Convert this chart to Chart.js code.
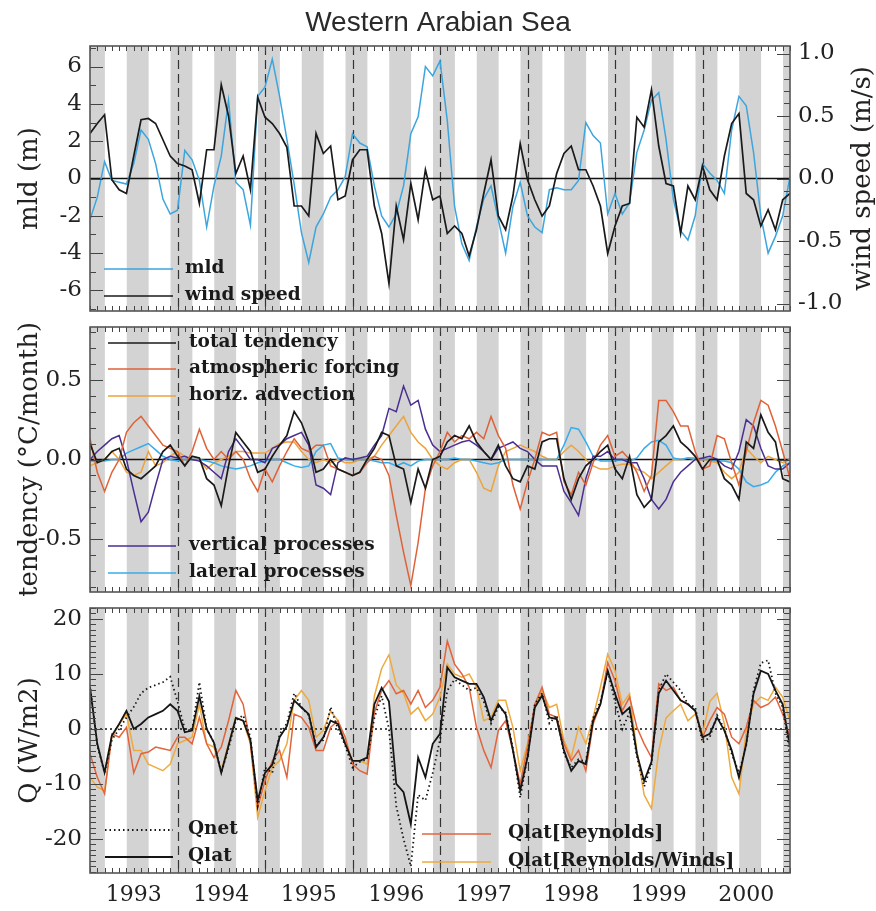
<!DOCTYPE html>
<html lang="en">
<head>
<meta charset="UTF-8" />
<title>Western Arabian Sea</title>
<script src="https://cdn.jsdelivr.net/npm/chart.js"></script>
<style>
  body { margin: 0; background: #fff; }
  #wrap { position: relative; width: 876px; height: 911px; }
  canvas { position: absolute; left: 0; }
</style>
</head>
<body>
<div id="wrap">
  <canvas id="mldChart" width="876" height="312" style="top:0"></canvas>
  <canvas id="tendChart" width="876" height="284" style="top:312px"></canvas>
  <canvas id="heatChart" width="876" height="315" style="top:596px"></canvas>
</div>
<script>
// monthly samples, Jan 1993 .. Jan 2001 (decimal years)
const months = Array.from({ length: 97 }, (_, i) => 1993 + i / 12);

const yearLabels = ['1993', '1994', '1995', '1996', '1997', '1998', '1999', '2000'];
const yearCenters = [1993.5, 1994.5, 1995.5, 1996.5, 1997.5, 1998.5, 1999.5, 2000.5];
const januaryLines = [1994, 1995, 1996, 1997, 1998, 1999, 2000];
// DJF and JJA seasons (shaded)
const seasonBands = [
  [1992.92, 1993.17], [1993.42, 1993.67], [1993.92, 1994.17], [1994.42, 1994.67],
  [1994.92, 1995.17], [1995.42, 1995.67], [1995.92, 1996.17], [1996.42, 1996.67],
  [1996.92, 1997.17], [1997.42, 1997.67], [1997.92, 1998.17], [1998.42, 1998.67],
  [1998.92, 1999.17], [1999.42, 1999.67], [1999.92, 2000.17], [2000.42, 2000.67],
  [2000.92, 2001.17]
];

const mldTicks = [-6, -4, -2, 0, 2, 4, 6];
const windTicks = [-1.0, -0.5, 0.0, 0.5, 1.0];
const tendTicks = [-0.5, 0.0, 0.5];
const qTicks = [-20, -10, 0, 10, 20];

// panel 1
const mld = [
  -2.2, -1.0, 0.9, -0.1, -0.2, -0.3, 0.8, 2.6, 2.1, 0.8, -1.1, -1.9,
  -1.7, 1.5, 1.0, -0.1, -2.6, -0.4, 1.2, 4.2, -0.2, -0.6, -2.5, 4.4,
  4.9, 6.4, 4.4, 2.1, -0.3, -2.9, -4.5, -2.6, -1.9, -1.0, -0.6, 0.1,
  2.4, 1.9, 1.7, -0.4, -2.0, -2.6, -1.9, -0.4, 2.4, 3.3, 6.0, 5.5,
  6.3, 3.1, -1.5, -3.5, -4.4, -2.6, -1.1, -0.4, -2.2, -4.0, -1.5, -0.2,
  -2.0, -2.6, -2.9, -0.6, -0.5, -0.6, -0.6, -0.1, 3.0, 2.3, 1.9, -1.9,
  -0.8, -1.9, -1.3, 1.4, 2.6, 4.2, 4.6, 2.1, -1.1, -2.8, -3.3, -2.0,
  0.8, 0.3, -0.1, -0.8, 2.6, 4.4, 3.9, 1.4, -2.0, -4.0, -3.1, -2.0,
  0.1
];
const windSpeed = [
  0.36, 0.44, 0.51, -0.01, -0.09, -0.12, 0.18, 0.47, 0.48, 0.44, 0.31, 0.18,
  0.12, 0.10, 0.07, -0.20, 0.23, 0.23, 0.75, 0.50, 0.04, 0.18, -0.09, 0.65,
  0.49, 0.44, 0.36, 0.25, -0.22, -0.22, -0.30, 0.36, 0.20, 0.26, -0.17, -0.14,
  0.15, 0.23, 0.23, -0.22, -0.44, -0.84, -0.22, -0.49, -0.04, -0.33, 0.07, -0.17,
  -0.14, -0.44, -0.38, -0.44, -0.62, -0.41, -0.12, 0.15, -0.30, -0.41, -0.14, 0.28,
  -0.01, -0.17, -0.30, -0.22, 0.04, 0.20, 0.26, 0.07, 0.07, -0.06, -0.22, -0.60,
  -0.38, -0.22, -0.20, 0.49, 0.41, 0.71, 0.26, -0.04, -0.06, -0.44, -0.06, -0.17,
  0.10, -0.09, -0.17, 0.18, 0.44, 0.52, -0.12, -0.17, -0.38, -0.25, -0.41, -0.17,
  -0.12
];

// panel 2
const totalTend = [
  0.10, -0.02, 0.00, 0.05, 0.07, -0.06, -0.10, -0.12, -0.08, -0.04, 0.05, 0.09,
  0.02, -0.04, 0.02, 0.01, -0.12, -0.16, -0.29, -0.04, 0.17, 0.11, 0.05, -0.08,
  -0.06, 0.02, 0.09, 0.15, 0.30, 0.23, 0.11, -0.08, -0.06, 0.00, -0.06, -0.08,
  -0.10, -0.08, 0.00, 0.07, 0.17, 0.15, -0.04, -0.06, -0.27, -0.06, -0.18, 0.00,
  0.02, 0.11, 0.15, 0.13, 0.21, 0.11, 0.05, 0.00, 0.09, -0.04, -0.12, -0.14,
  -0.04, -0.06, 0.11, 0.13, 0.13, -0.12, -0.25, -0.12, -0.04, 0.00, 0.05, 0.09,
  -0.06, -0.12, 0.02, -0.22, -0.30, -0.25, 0.11, 0.15, 0.21, 0.11, 0.07, 0.02,
  -0.06, 0.00, 0.00, -0.12, -0.16, -0.25, 0.11, 0.07, 0.28, 0.17, 0.11, -0.12,
  -0.14
];
const atmForcing = [
  0.13, -0.08, -0.20, -0.08, 0.00, 0.17, 0.23, 0.27, 0.21, 0.15, 0.09, 0.07,
  0.05, -0.04, 0.05, 0.19, 0.07, 0.00, 0.05, 0.00, 0.05, 0.00, -0.12, -0.20,
  -0.06, -0.14, -0.04, 0.05, 0.13, 0.07, 0.05, 0.09, 0.09, -0.04, -0.06, -0.08,
  -0.10, -0.08, -0.02, 0.02, 0.00, -0.10, -0.35, -0.58, -0.79, -0.52, -0.18, -0.04,
  0.05, 0.17, 0.11, 0.15, 0.13, 0.17, 0.13, 0.27, 0.15, 0.07, -0.16, -0.31,
  -0.14, 0.00, 0.17, 0.15, 0.17, -0.14, -0.22, -0.08, -0.16, -0.02, 0.09, 0.15,
  0.02, 0.05, 0.00, -0.08, -0.20, -0.10, 0.37, 0.37, 0.30, 0.21, 0.21, 0.05,
  -0.06, -0.04, 0.15, 0.13, -0.02, -0.16, 0.05, 0.23, 0.37, 0.34, 0.21, 0.05,
  -0.12
];
const horizAdv = [
  -0.04, -0.02, 0.00, 0.05, 0.00, -0.08, -0.10, -0.08, 0.05, -0.04, -0.02, 0.02,
  0.05, 0.02, 0.00, 0.00, -0.06, -0.02, 0.00, 0.02, 0.05, 0.05, 0.04, 0.04,
  0.04, 0.07, 0.10, 0.11, 0.11, 0.05, 0.00, -0.02, 0.00, -0.02, 0.00, -0.02,
  -0.02, 0.00, 0.00, 0.02, 0.09, 0.15, 0.21, 0.27, 0.17, 0.11, 0.07, 0.00,
  -0.04, -0.06, -0.02, 0.00, 0.00, -0.08, -0.18, -0.20, -0.04, 0.05, 0.07, 0.09,
  0.07, 0.05, 0.02, 0.00, 0.00, 0.05, 0.09, 0.05, 0.00, -0.04, -0.06, -0.06,
  -0.04, -0.03, -0.03, -0.06, -0.08, -0.12, -0.08, -0.04, 0.00, 0.00, 0.01, 0.00,
  0.00, -0.01, -0.02, -0.08, -0.12, -0.08, 0.07, 0.02, -0.02, 0.02, 0.00, -0.02,
  0.00
];
const vertProc = [
  0.00, 0.05, 0.09, 0.13, 0.15, 0.00, -0.20, -0.39, -0.33, -0.16, 0.00, 0.02,
  0.01, 0.02, 0.00, -0.01, -0.04, -0.08, -0.12, 0.05, 0.13, 0.07, 0.00, 0.00,
  -0.02, 0.07, 0.09, 0.13, 0.15, 0.17, 0.09, -0.16, -0.18, -0.22, -0.02, 0.01,
  0.00, 0.01, 0.02, 0.09, 0.15, 0.32, 0.30, 0.46, 0.34, 0.37, 0.19, 0.09,
  0.05, 0.07, 0.09, 0.11, 0.12, 0.09, 0.05, 0.00, 0.07, 0.09, 0.11, 0.07,
  0.05, 0.00, -0.04, -0.04, -0.04, -0.20, -0.27, -0.35, -0.12, 0.02, 0.02, 0.05,
  0.00, 0.00, -0.02, -0.02, -0.12, -0.25, -0.31, -0.25, -0.14, -0.08, -0.04, 0.00,
  0.01, 0.02, 0.00, -0.04, -0.06, 0.05, 0.25, 0.21, 0.07, -0.04, -0.06, -0.06,
  -0.02
];
const latProc = [
  -0.01, -0.01, -0.01, 0.00, 0.00, 0.04, 0.06, 0.08, 0.10, 0.06, 0.02, 0.00,
  -0.01, 0.00, 0.00, 0.00, -0.01, -0.02, -0.04, -0.05, -0.06, -0.05, -0.04, -0.02,
  -0.01, 0.00, 0.00, -0.02, -0.04, -0.05, -0.04, 0.05, 0.09, 0.10, 0.01, 0.00,
  0.00, 0.00, 0.00, -0.01, -0.02, -0.02, -0.04, -0.02, -0.04, -0.01, 0.00, 0.00,
  0.00, 0.00, 0.01, 0.00, 0.00, -0.01, -0.02, -0.03, -0.02, 0.00, 0.00, 0.00,
  0.00, 0.00, 0.00, 0.00, 0.00, 0.09, 0.20, 0.19, 0.11, 0.02, -0.01, -0.01,
  -0.01, 0.00, -0.01, 0.01, 0.07, 0.11, 0.12, 0.09, 0.01, 0.00, 0.01, 0.01,
  0.00, 0.00, -0.01, -0.01, -0.02, -0.06, -0.14, -0.17, -0.16, -0.14, -0.08, -0.04,
  -0.02
];

// panel 3
const qNet = [
  8.0, -3.0, -8.0, -2.0, 0.0, 2.1, 4.0, 6.5, 7.5, 8.0, 8.5, 9.5,
  5.0, 0.0, -0.3, 8.5, 0.0, -2.5, -8.0, -3.5, 1.5, 2.5, -1.5, -14.0,
  -7.0, -8.0, -1.0, 1.0, 6.5, 4.0, 2.5, -3.0, -2.0, 4.0, 0.0, -3.0,
  -7.0, -6.0, -5.5, 2.0, 6.0, 0.0, -14.0, -20.0, -25.0, -12.0, -13.0, -8.0,
  -2.0, 7.0, 9.0, 8.0, 7.0, 7.5, 5.0, 1.0, 4.0, 3.0, -3.5, -12.5,
  -5.0, 4.5, 6.5, 1.0, 2.5, -4.5, -7.0, -5.5, -6.0, 2.0, 5.0, 10.5,
  5.0, 0.0, 3.0, -5.0, -10.5, -6.5, 7.0, 10.0, 8.5, 7.0, 4.5, 4.0,
  -2.5, -1.5, 2.5, 0.0, -4.5, -8.0, -3.0, 7.0, 12.0, 12.5, 6.5, 4.0,
  -5.0
];
const qLat = [
  7.6, -2.7, -7.9, -1.2, 0.9, 3.3, 0.0, 0.9, 2.1, 2.7, 3.3, 4.5,
  3.3, -0.6, -0.3, 6.0, 0.0, -2.5, -8.0, -3.0, 2.0, 1.5, -2.0, -13.0,
  -8.0, -6.5, -1.5, 0.5, 5.2, 3.9, 2.7, -3.3, -1.5, 1.5, 0.9, -2.7,
  -5.8, -5.8, -5.2, 4.5, 7.5, 5.0, -10.0, -11.5, -17.3, -5.2, -8.8, -2.7,
  -0.9, 11.2, 9.4, 8.8, 8.2, 8.2, 5.8, 1.5, 4.5, 2.7, -3.9, -11.2,
  -5.2, 3.9, 6.1, 2.1, 1.8, -3.9, -7.6, -5.8, -6.4, 1.5, 4.5, 10.6,
  6.4, 2.7, 3.9, -4.5, -9.5, -6.0, 6.5, 8.8, 7.0, 5.2, 4.5, 3.3,
  -1.5, -0.9, 2.1, -0.3, -3.9, -8.8, -2.7, 6.4, 10.6, 10.0, 7.0, 4.5,
  -3.3
];
const qLatReynolds = [
  -4.5, -8.8, -11.8, -0.9, -1.5, 0.3, -8.0, -4.5, -4.2, -3.3, -3.6, -3.9,
  -1.5, -1.5, -2.7, 2.1, -2.7, -5.2, -3.3, 1.5, 7.0, 4.5, -2.7, -14.2,
  -9.4, -5.8, -3.9, -8.8, 2.7, 2.1, 0.3, -3.9, -3.9, 0.3, 1.5, -1.5,
  -6.4, -7.6, -8.2, 3.0, 7.0, 8.8, 6.4, 7.0, 4.5, 7.0, 3.9, 5.2,
  7.6, 16.0, 11.8, 10.0, 7.6, 0.3, -3.9, -7.0, -0.3, 1.5, -3.9, -10.0,
  -3.3, 4.5, 7.6, 2.7, 2.1, -2.7, -5.8, -3.9, -7.6, 0.9, 4.5, 12.1,
  8.8, 3.3, 5.8, 0.3, -2.7, -5.2, 8.2, 7.0, 7.6, 5.2, 4.5, 3.3,
  -1.5, 1.5, 3.9, 2.7, -1.5, -2.7, 0.3, 5.2, 3.9, 4.5, 5.8, 2.7,
  -1.5
];
const qLatReynoldsWinds = [
  -8.8, -10.6, -11.2, -1.5, 0.9, 2.7, -3.9, -3.9, -6.4, -7.0, -7.6, -6.4,
  -2.7, -2.1, -1.5, 4.5, -2.7, -3.3, -7.6, -2.7, 2.1, 1.5, -2.7, -16.1,
  -11.2, -7.0, -5.8, -2.7, 5.2, 7.0, 5.2, -1.5, -0.3, 3.3, 1.5, -2.7,
  -5.8, -5.8, -6.4, 6.0, 11.0, 13.5, 8.0, 6.5, 2.7, 3.9, 1.5, 2.7,
  5.8, 11.8, 10.0, 9.4, 10.0, 7.6, 1.5, 2.1, 5.2, 5.2, 0.3, -7.6,
  -2.7, 3.9, 7.0, 3.9, 4.5, -2.1, -5.2, 0.3, -2.7, 2.1, 7.6, 13.6,
  10.6, 4.5, 6.4, -4.0, -12.0, -14.5, -4.0, 2.0, 3.3, 4.5, 1.5, 2.7,
  -0.9, 5.0, 6.5, 0.9, -8.8, -11.8, -0.3, 4.5, 5.8, 5.2, 7.6, 5.8,
  1.5
];

const serif = '"DejaVu Serif", serif';
const series = (vals) => months.map((t, i) => ({ x: t, y: vals[i] }));
const line = (label, vals, color, extra) => Object.assign({
  label, data: series(vals), borderColor: color, borderWidth: 1.5,
  pointRadius: 0, tension: 0, fill: false
}, extra || {});

// frame, shading, inward ticks, zero line and in-plot legend
const panelFrame = {
  id: 'panelFrame',
  beforeDatasetsDraw(chart, args, opts) {
    const { ctx, chartArea: a, scales } = chart;
    const xs = scales.x, ys = scales.y;
    ctx.save();
    ctx.beginPath(); ctx.rect(a.left, a.top, a.width, a.height); ctx.clip();
    ctx.fillStyle = '#d3d3d3';
    seasonBands.forEach(([s, e]) => {
      const x0 = xs.getPixelForValue(s), x1 = xs.getPixelForValue(e);
      ctx.fillRect(x0, a.top, x1 - x0, a.height);
    });
    ctx.strokeStyle = '#333'; ctx.lineWidth = 1.2; ctx.setLineDash([9, 5]);
    januaryLines.forEach(v => {
      const px = Math.round(xs.getPixelForValue(v)) + 0.5;
      ctx.beginPath(); ctx.moveTo(px, a.top); ctx.lineTo(px, a.bottom); ctx.stroke();
    });
    ctx.setLineDash(opts.zeroDash || []);
    ctx.strokeStyle = '#111'; ctx.lineWidth = opts.zeroWidth || 1.6;
    const zy = ys.getPixelForValue(0);
    ctx.beginPath(); ctx.moveTo(a.left, zy); ctx.lineTo(a.right, zy); ctx.stroke();
    ctx.restore();
  },
  afterDatasetsDraw(chart, args, opts) {
    const { ctx, chartArea: a, scales } = chart;
    const xs = scales.x;
    ctx.save();
    ctx.strokeStyle = '#444'; ctx.lineWidth = 1;
    ctx.beginPath();
    months.forEach(t => {
      const px = Math.round(xs.getPixelForValue(t)) + 0.5;
      ctx.moveTo(px, a.top); ctx.lineTo(px, a.top + 5);
      ctx.moveTo(px, a.bottom); ctx.lineTo(px, a.bottom - 5);
    });
    (opts.yTicks || []).forEach(spec => {
      const s = scales[spec.scale];
      const edge = spec.side === 'left' ? a.left : a.right;
      const dir = spec.side === 'left' ? 1 : -1;
      const n0 = Math.ceil(s.min / spec.minorStep - 1e-9);
      const n1 = Math.floor(s.max / spec.minorStep + 1e-9);
      for (let n = n0; n <= n1; n++) {
        const py = Math.round(s.getPixelForValue(n * spec.minorStep)) + 0.5;
        ctx.moveTo(edge, py); ctx.lineTo(edge + dir * 6, py);
      }
      spec.major.forEach(v => {
        const py = Math.round(s.getPixelForValue(v)) + 0.5;
        ctx.moveTo(edge, py); ctx.lineTo(edge + dir * 13, py);
      });
    });
    ctx.stroke();
    ctx.strokeStyle = '#555'; ctx.lineWidth = 1.6;
    ctx.strokeRect(a.left, a.top, a.width, a.height);
    ctx.restore();
  },
  afterDraw(chart, args, opts) {
    const { ctx } = chart;
    ctx.save();
    (opts.legend || []).forEach(item => {
      const ds = chart.data.datasets[item.ds];
      ctx.strokeStyle = ds.borderColor;
      ctx.lineWidth = ds.borderWidth;
      ctx.setLineDash(ds.borderDash || []);
      ctx.beginPath(); ctx.moveTo(item.x0, item.y); ctx.lineTo(item.x1, item.y); ctx.stroke();
      ctx.setLineDash([]);
      ctx.fillStyle = '#1a1a1a';
      ctx.font = 'bold 18.5px ' + serif;
      ctx.textBaseline = 'middle';
      ctx.textAlign = 'left';
      ctx.fillText(ds.label, item.tx, item.y - 1);
    });
    if (opts.rightTitle) {
      const r = opts.rightTitle;
      ctx.translate(r.x, (chart.chartArea.top + chart.chartArea.bottom) / 2);
      ctx.rotate(-Math.PI / 2);
      ctx.font = '26px ' + serif;
      ctx.fillStyle = '#222';
      ctx.textAlign = 'center';
      ctx.textBaseline = 'middle';
      ctx.fillText(r.text, 0, 0);
    }
    ctx.restore();
  }
};

const fixedWidth = (w) => (scale) => {
  scale.width = w; scale.paddingTop = 0; scale.paddingBottom = 0;
};
const useTicks = (vals) => (scale) => { scale.ticks = vals.map(v => ({ value: v })); };

const yAxis = (min, max, ticks, fmt, title, position, width) => ({
  type: 'linear', position, min, max,
  afterBuildTicks: useTicks(ticks),
  afterFit: fixedWidth(width),
  grid: { display: false, drawTicks: false },
  border: { display: false },
  ticks: {
    font: { family: serif, size: 23 }, color: '#222', padding: 8,
    callback: fmt
  },
  title: title ? { display: true, text: title, font: { family: serif, size: 26 }, color: '#222', padding: { top: 15, bottom: 0 } } : { display: false }
});

const hiddenX = {
  type: 'linear', min: 1993, max: 2001, display: false
};

const baseOptions = {
  responsive: false, animation: false, devicePixelRatio: 1,
  events: [],
  plugins: { legend: { display: false }, tooltip: { enabled: false } }
};

// ---- panel 1: mld & wind speed
new Chart(document.getElementById('mldChart'), {
  type: 'line',
  data: {
    datasets: [
      line('wind speed', windSpeed, '#1a1a1a', { yAxisID: 'y2', borderWidth: 1.7 }),
      line('mld', mld, '#3da5dd', { yAxisID: 'y' })
    ]
  },
  options: Object.assign({}, baseOptions, {
    layout: { padding: { top: 0, bottom: 1, left: 0, right: 0 } },
    scales: {
      x: hiddenX,
      y: yAxis(-7.1, 7.1, mldTicks, v => String(v), 'mld (m)', 'left', 90),
      y2: yAxis(-1.06, 1.06, windTicks, v => v.toFixed(1), null, 'right', 86)
    },
    plugins: {
      legend: { display: false }, tooltip: { enabled: false },
      title: {
        display: true, text: 'Western Arabian Sea', color: '#2a2a2a',
        font: { family: '"Liberation Sans", Arial, sans-serif', size: 28, weight: 'normal' },
        padding: { top: 6, bottom: 6.4 }
      },
      panelFrame: {
        zeroWidth: 1.6,
        yTicks: [
          { scale: 'y', side: 'left', major: mldTicks, minorStep: 1 },
          { scale: 'y2', side: 'right', major: windTicks, minorStep: 0.1 }
        ],
        legend: [
          { ds: 1, x0: 104, x1: 173, tx: 185, y: 269 },
          { ds: 0, x0: 104, x1: 173, tx: 185, y: 296 }
        ],
        rightTitle: { text: 'wind speed (m/s)', x: 863 }
      }
    }
  }),
  plugins: [panelFrame]
});

// ---- panel 2: temperature tendency terms
new Chart(document.getElementById('tendChart'), {
  type: 'line',
  data: {
    datasets: [
      line('total tendency', totalTend, '#1a1a1a', { borderWidth: 1.7 }),
      line('atmospheric forcing', atmForcing, '#de6238'),
      line('vertical processes', vertProc, '#4b2e92'),
      line('lateral processes', latProc, '#37acea'),
      line('horiz. advection', horizAdv, '#eba33d')
    ]
  },
  options: Object.assign({}, baseOptions, {
    layout: { padding: { top: 15, bottom: 4, left: 0, right: 86 } },
    scales: {
      x: hiddenX,
      y: yAxis(-0.83, 0.83, tendTicks, v => v.toFixed(1), 'tendency (°C/month)', 'left', 90)
    },
    plugins: {
      legend: { display: false }, tooltip: { enabled: false },
      panelFrame: {
        zeroWidth: 1.6,
        yTicks: [
          { scale: 'y', side: 'left', major: tendTicks, minorStep: 0.1 },
          { scale: 'y', side: 'right', major: tendTicks, minorStep: 0.1 }
        ],
        legend: [
          { ds: 0, x0: 108, x1: 176, tx: 189, y: 31 },
          { ds: 1, x0: 108, x1: 176, tx: 189, y: 57 },
          { ds: 4, x0: 108, x1: 176, tx: 189, y: 84 },
          { ds: 2, x0: 108, x1: 176, tx: 189, y: 234 },
          { ds: 3, x0: 108, x1: 176, tx: 189, y: 261 }
        ]
      }
    }
  }),
  plugins: [panelFrame]
});

// ---- panel 3: heat fluxes
new Chart(document.getElementById('heatChart'), {
  type: 'line',
  data: {
    datasets: [
      line('Qlat', qLat, '#151515', { borderWidth: 1.8 }),
      line('Qnet', qNet, '#151515', { borderDash: [1.5, 3], borderWidth: 1.8 }),
      line('Qlat[Reynolds]', qLatReynolds, '#e2643b'),
      line('Qlat[Reynolds/Winds]', qLatReynoldsWinds, '#eeaa3e')
    ]
  },
  options: Object.assign({}, baseOptions, {
    layout: { padding: { top: 12, bottom: 0, left: 0, right: 86 } },
    scales: {
      x: {
        type: 'linear', min: 1993, max: 2001, position: 'bottom',
        afterBuildTicks: useTicks(yearCenters),
        afterFit: (scale) => { scale.height = 38; scale.paddingLeft = 0; scale.paddingRight = 0; },
        grid: { display: false, drawTicks: false },
        border: { display: false },
        ticks: {
          font: { family: serif, size: 22 }, color: '#222', padding: 9, maxRotation: 0,
          callback: (v, i) => yearLabels[i]
        }
      },
      y: yAxis(-26.2, 22.0, qTicks, v => String(v), 'Q (W/m2)', 'left', 90)
    },
    plugins: {
      legend: { display: false }, tooltip: { enabled: false },
      panelFrame: {
        zeroDash: [2, 3], zeroWidth: 1.6,
        yTicks: [
          { scale: 'y', side: 'left', major: qTicks, minorStep: 1 },
          { scale: 'y', side: 'right', major: qTicks, minorStep: 1 }
        ],
        legend: [
          { ds: 1, x0: 105, x1: 173, tx: 188, y: 234 },
          { ds: 0, x0: 105, x1: 173, tx: 188, y: 261 },
          { ds: 2, x0: 422, x1: 491, tx: 508, y: 238 },
          { ds: 3, x0: 422, x1: 491, tx: 508, y: 266 }
        ]
      }
    }
  }),
  plugins: [panelFrame]
});
</script>
</body>
</html>
